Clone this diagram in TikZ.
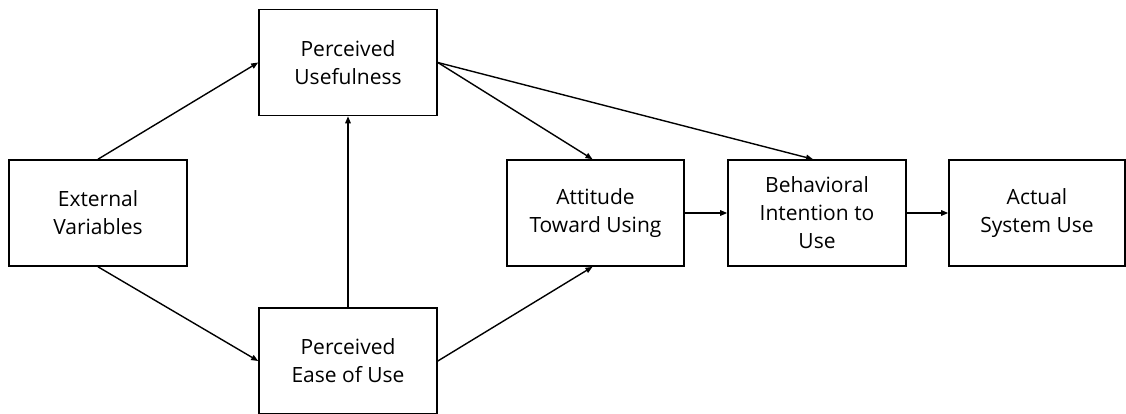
\documentclass[tikz,border=0pt]{standalone}
\usepackage{fontspec}
\setmainfont{Open Sans}
\usetikzlibrary{arrows.meta}
\begin{document}
\begin{tikzpicture}[x=1pt,y=-1pt,
  box/.style={draw, line width=1.6pt, minimum width=178pt, minimum height=106pt,
    align=center, inner sep=0pt, font=\fontsize{21}{28}\selectfont},
  conn/.style={line width=1.4pt, -{Triangle[length=7pt,width=5.5pt]}}]
\useasboundingbox (0,0) rectangle (1126,413);
\node[box] (ext) at (98,213) {External\\Variables};
\node[box] (pu) at (348,62.5) {Perceived\\Usefulness};
\node[box] (peou) at (348,361) {Perceived\\Ease of Use};
\node[box, minimum width=177pt] (att) at (595.5,213) {Attitude\\Toward Using};
\node[box] (bi) at (817,213) {Behavioral\\Intention to\\Use};
\node[box, minimum width=176pt] (asu) at (1037,213) {Actual\\System Use};
\draw[conn] (ext.north) -- (pu.west);
\draw[conn] (ext.south) -- (peou.west);
\draw[conn] (peou.north) -- (pu.south);
\draw[conn] (pu.east) -- ([xshift=-3pt]att.north);
\draw[conn] (pu.east) -- ([xshift=-4pt]bi.north);
\draw[conn] (peou.east) -- ([xshift=-3pt]att.south);
\draw[conn] (att.east) -- (bi.west);
\draw[conn] (bi.east) -- (asu.west);
\end{tikzpicture}
\end{document}
